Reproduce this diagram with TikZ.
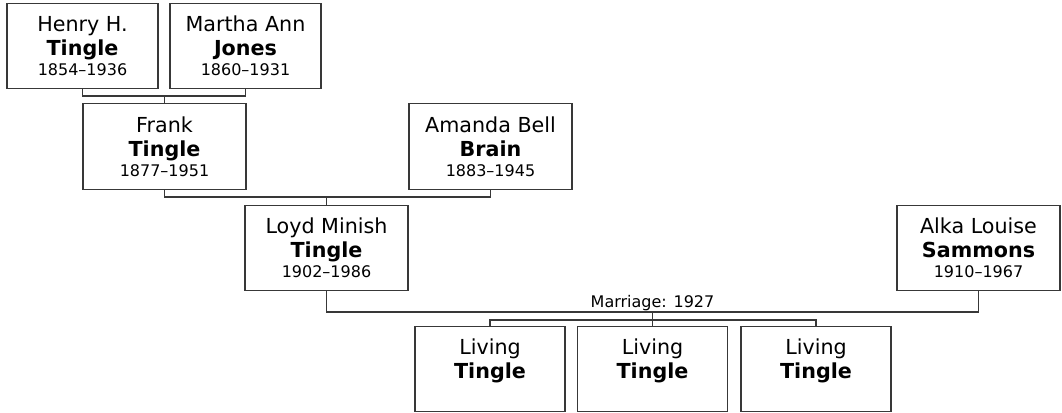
\documentclass[tikz,border=0pt]{standalone}
\usepackage{fontspec}
\setmainfont{DejaVu Sans}
\usepackage{tikz}
\usetikzlibrary{calc,positioning}

\newcommand{\datefont}{\fontsize{12}{15}\selectfont}

\begin{document}
\begin{tikzpicture}[
    x=0.75pt,
    y=-0.75pt,
    person/.style={draw=black!78,line width=0.9pt,align=center,
        inner sep=0pt,minimum height=64pt,
        font=\fontsize{15.5}{18}\selectfont},
    elder/.style={person,minimum width=113.25pt},
    card/.style={person,minimum width=122.25pt},
    child/.style={person,minimum width=112.5pt},
    link/.style={draw=black!78,line width=0.9pt},
    note/.style={font=\datefont,inner sep=1pt}
]

\useasboundingbox (0,0) rectangle (1062,413);

% ---------------------------------------------------------
% Great-grandparents
% ---------------------------------------------------------

\node[elder] (henry) at (82.5,46)
    {Henry H.\\\textbf{Tingle}\\[-3pt]{\datefont 1854--1936}};

\node[elder] (martha) at (245.5,46)
    {Martha Ann\\\textbf{Jones}\\[-3pt]{\datefont 1860--1931}};

% ---------------------------------------------------------
% Grandparents
% ---------------------------------------------------------

\node[card] (frank) at (164.5,146.5)
    {Frank\\\textbf{Tingle}\\[-3pt]{\datefont 1877--1951}};

\node[card] (amanda) at (490.5,146.5)
    {Amanda Bell\\\textbf{Brain}\\[-3pt]{\datefont 1883--1945}};

% ---------------------------------------------------------
% Parents
% ---------------------------------------------------------

\node[card] (loyd) at (326.5,248)
    {Loyd Minish\\\textbf{Tingle}\\[-3pt]{\datefont 1902--1986}};

\node[card] (alka) at (978.5,248)
    {Alka Louise\\\textbf{Sammons}\\[-3pt]{\datefont 1910--1967}};

% ---------------------------------------------------------
% Children
% ---------------------------------------------------------

\node[child] (kidA) at (490,369)
    {Living\\\textbf{Tingle}\\[-3pt]{\datefont\phantom{1}}};

\node[child] (kidB) at (652.5,369)
    {Living\\\textbf{Tingle}\\[-3pt]{\datefont\phantom{1}}};

\node[child] (kidC) at (816,369)
    {Living\\\textbf{Tingle}\\[-3pt]{\datefont\phantom{1}}};

% ---------------------------------------------------------
% Couple bars and descent lines
% ---------------------------------------------------------

\coordinate (bar1) at (frank.north |- 0,96);
\coordinate (bar2) at (loyd.north |- 0,197);
\coordinate (bar3) at (kidB.north |- 0,312);
\coordinate (bar4) at (kidB.north |- 0,320);

\draw[link] (henry.south) |- (bar1) -| (martha.south);
\draw[link] (bar1) -- (frank.north);

\draw[link] (frank.south) |- (bar2) -| (amanda.south);
\draw[link] (bar2) -- (loyd.north);

\draw[link] (loyd.south) |- (bar3) -| (alka.south);
\draw[link] (bar3) -- (kidB.north);

\node[note,above] (wedding) at (bar3) {Marriage: 1927};

\draw[link] (kidA.north) |- (bar4) -| (kidC.north);

\end{tikzpicture}
\end{document}
